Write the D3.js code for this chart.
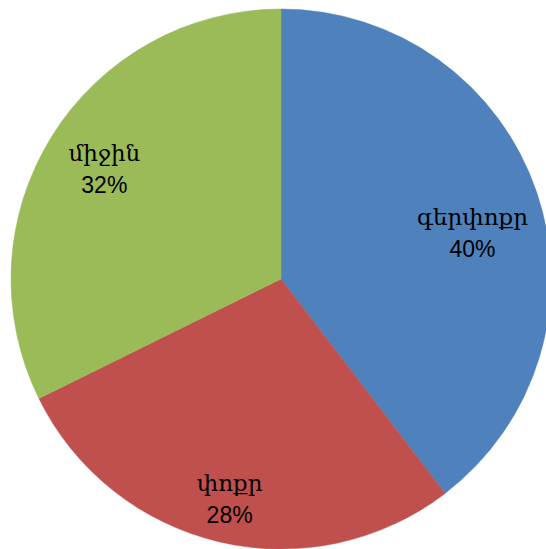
<!DOCTYPE html>
<html>
<head>
<meta charset="utf-8">
<script src="https://cdn.jsdelivr.net/npm/d3@7"></script>
<style>
  html, body { margin: 0; padding: 0; background: #fff; }
  svg { display: block; }
</style>
</head>
<body>
<svg id="chart" width="546" height="549"></svg>
<script>
const categories = ["գերփոքր", "փոքր", "միջին"];
const values = [39.6, 28.1, 32.3];
const labels = ["40%", "28%", "32%"];
const colors = ["#4F81BD", "#C0504D", "#9BBB59"];

const svg = d3.select("#chart");
const cx = 281, cy = 279, r = 270;
const g = svg.append("g").attr("transform", `translate(${cx},${cy})`);

const pie = d3.pie().sort(null).value(d => d.v);
const data = pie(categories.map((c, i) => ({ c, v: values[i], col: colors[i], lab: labels[i] })));
const arc = d3.arc().innerRadius(0).outerRadius(r);

g.selectAll("path").data(data).join("path")
  .attr("d", arc)
  .attr("fill", d => d.data.col)
  .attr("stroke", d => d.data.col)
  .attr("stroke-width", 0.5);

const labelR = [198, 226, 208];
const nudgeX = [4, 0, 0];
const nudgeY = [18, 0, 0];
const lbl = g.selectAll("g.lbl").data(data).join("g")
  .attr("class", "lbl")
  .attr("transform", (d, i) => {
    const a = (d.startAngle + d.endAngle) / 2;
    const rr = labelR[i];
    return `translate(${Math.sin(a) * rr + nudgeX[i]},${-Math.cos(a) * rr + nudgeY[i]})`;
  });
lbl.append("text")
  .attr("text-anchor", "middle")
  .attr("y", -8)
  .attr("font-family", "'DejaVu Serif', 'Noto Sans', sans-serif")
  .attr("font-size", 23)
  .attr("fill", "#000")
  .text(d => d.data.c);
lbl.append("text")
  .attr("text-anchor", "middle")
  .attr("y", 24)
  .attr("font-family", "'Liberation Sans', 'Noto Sans', sans-serif")
  .attr("font-size", 23)
  .attr("fill", "#000")
  .text(d => d.data.lab);
</script>
</body>
</html>
